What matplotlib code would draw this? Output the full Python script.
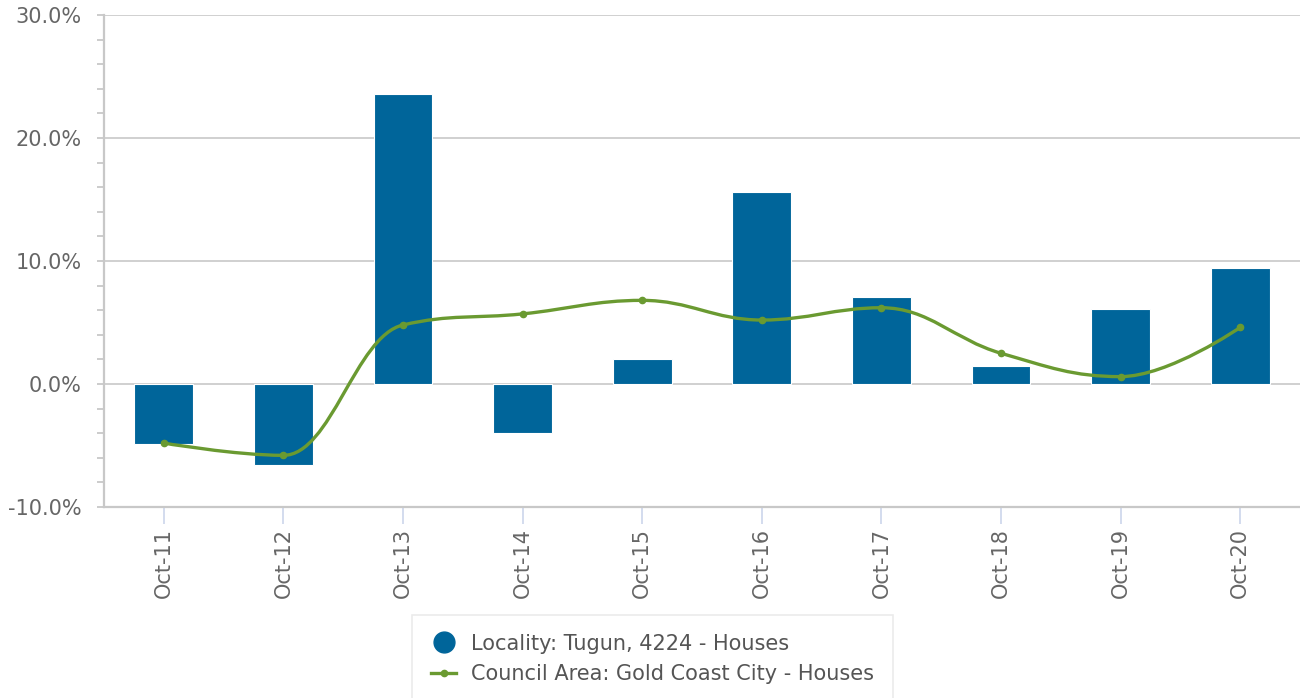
import numpy as np
import matplotlib
matplotlib.use("Agg")
import matplotlib.pyplot as plt
from matplotlib.path import Path
from matplotlib.patches import PathPatch
from matplotlib.lines import Line2D
from matplotlib.ticker import MultipleLocator, FuncFormatter

# Data (annual change, %)
categories = ["Oct-11", "Oct-12", "Oct-13", "Oct-14", "Oct-15",
              "Oct-16", "Oct-17", "Oct-18", "Oct-19", "Oct-20"]
locality = [-4.9, -6.6, 23.6, -4.0, 2.0, 15.6, 7.1, 1.5, 6.1, 9.4]
council = [-4.8, -5.8, 4.8, 5.7, 6.8, 5.2, 6.2, 2.5, 0.6, 4.6]

bar_color = "#00659a"
line_color = "#6a9a31"
grid_color = "#c8c8c8"
text_color = "#666666"


def spline_path(xs, ys, smoothing=1.5):
    # highcharts-style spline: bezier control points from neighbours
    n = len(xs)
    left = [(xs[i], ys[i]) for i in range(n)]
    right = [(xs[i], ys[i]) for i in range(n)]
    denom = smoothing + 1
    for i in range(1, n - 1):
        x, y = xs[i], ys[i]
        lx, ly = xs[i - 1], ys[i - 1]
        nx, ny = xs[i + 1], ys[i + 1]
        lcx = (smoothing * x + lx) / denom
        lcy = (smoothing * y + ly) / denom
        rcx = (smoothing * x + nx) / denom
        rcy = (smoothing * y + ny) / denom
        if rcx != lcx:
            corr = (rcy - lcy) * (rcx - x) / (rcx - lcx) + y - rcy
            lcy += corr
            rcy += corr
        if lcy > ly and lcy > y:
            lcy = max(ly, y)
            rcy = 2 * y - lcy
        elif lcy < ly and lcy < y:
            lcy = min(ly, y)
            rcy = 2 * y - lcy
        if rcy > ny and rcy > y:
            rcy = max(ny, y)
            lcy = 2 * y - rcy
        elif rcy < ny and rcy < y:
            rcy = min(ny, y)
            lcy = 2 * y - rcy
        left[i] = (lcx, lcy)
        right[i] = (rcx, rcy)
    verts = [(xs[0], ys[0])]
    codes = [Path.MOVETO]
    for i in range(1, n):
        verts += [right[i - 1], left[i], (xs[i], ys[i])]
        codes += [Path.CURVE4] * 3
    return Path(verts, codes)


fig = plt.figure(figsize=(13, 6.98), dpi=100)
ax = fig.add_axes([104 / 1300, 1 - 507 / 698, 1196 / 1300, 492 / 698])

x = np.arange(len(categories))
ax.bar(x, locality, width=0.49, color=bar_color, edgecolor="white",
       linewidth=0.8, zorder=3)

path = spline_path(list(x.astype(float)), council)
ax.add_patch(PathPatch(path, facecolor="none", edgecolor=line_color,
                       linewidth=2.4, zorder=4, capstyle="round"))
ax.plot(x, council, linestyle="none", marker="o", markersize=4.5,
        color=line_color, zorder=5)

ax.set_xlim(-0.5, len(categories) - 0.5)
ax.set_ylim(-10, 30)
ax.yaxis.set_major_locator(MultipleLocator(10))
ax.yaxis.set_minor_locator(MultipleLocator(2))
ax.yaxis.set_major_formatter(FuncFormatter(lambda v, p: f"{v:.1f}%"))
ax.grid(axis="y", which="major", color=grid_color, linewidth=1.2, zorder=0)

ax.set_xticks(x)
ax.set_xticklabels(categories, rotation=90)

for side in ["top", "right"]:
    ax.spines[side].set_visible(False)
ax.spines["left"].set_color(grid_color)
ax.spines["left"].set_linewidth(1.6)
ax.spines["bottom"].set_color(grid_color)
ax.spines["bottom"].set_linewidth(1.6)

ax.tick_params(axis="y", which="both", length=5, width=1.3, color=grid_color,
               labelsize=15, labelcolor=text_color, pad=11)
ax.tick_params(axis="x", length=12, width=1.2, color="#ccd6eb",
               labelsize=15, labelcolor=text_color, pad=3)

handles = [
    Line2D([], [], linestyle="none", marker="o", markersize=15,
           color=bar_color),
    Line2D([], [], color=line_color, linewidth=2.4, marker="o",
           markersize=4.5),
]
labels = ["Locality: Tugun, 4224 - Houses",
          "Council Area: Gold Coast City - Houses"]
leg = fig.legend(handles, labels, loc="upper center",
                 bbox_to_anchor=(0.502, 1 - 615 / 698), fontsize=15,
                 frameon=True, fancybox=False, edgecolor="#e6e6e6",
                 handlelength=1.2, handletextpad=0.72, labelspacing=0.5,
                 borderpad=0.9, borderaxespad=0)
for t in leg.get_texts():
    t.set_color("#555555")
leg.get_frame().set_linewidth(1.2)

fig.savefig("out.png", dpi=100)
